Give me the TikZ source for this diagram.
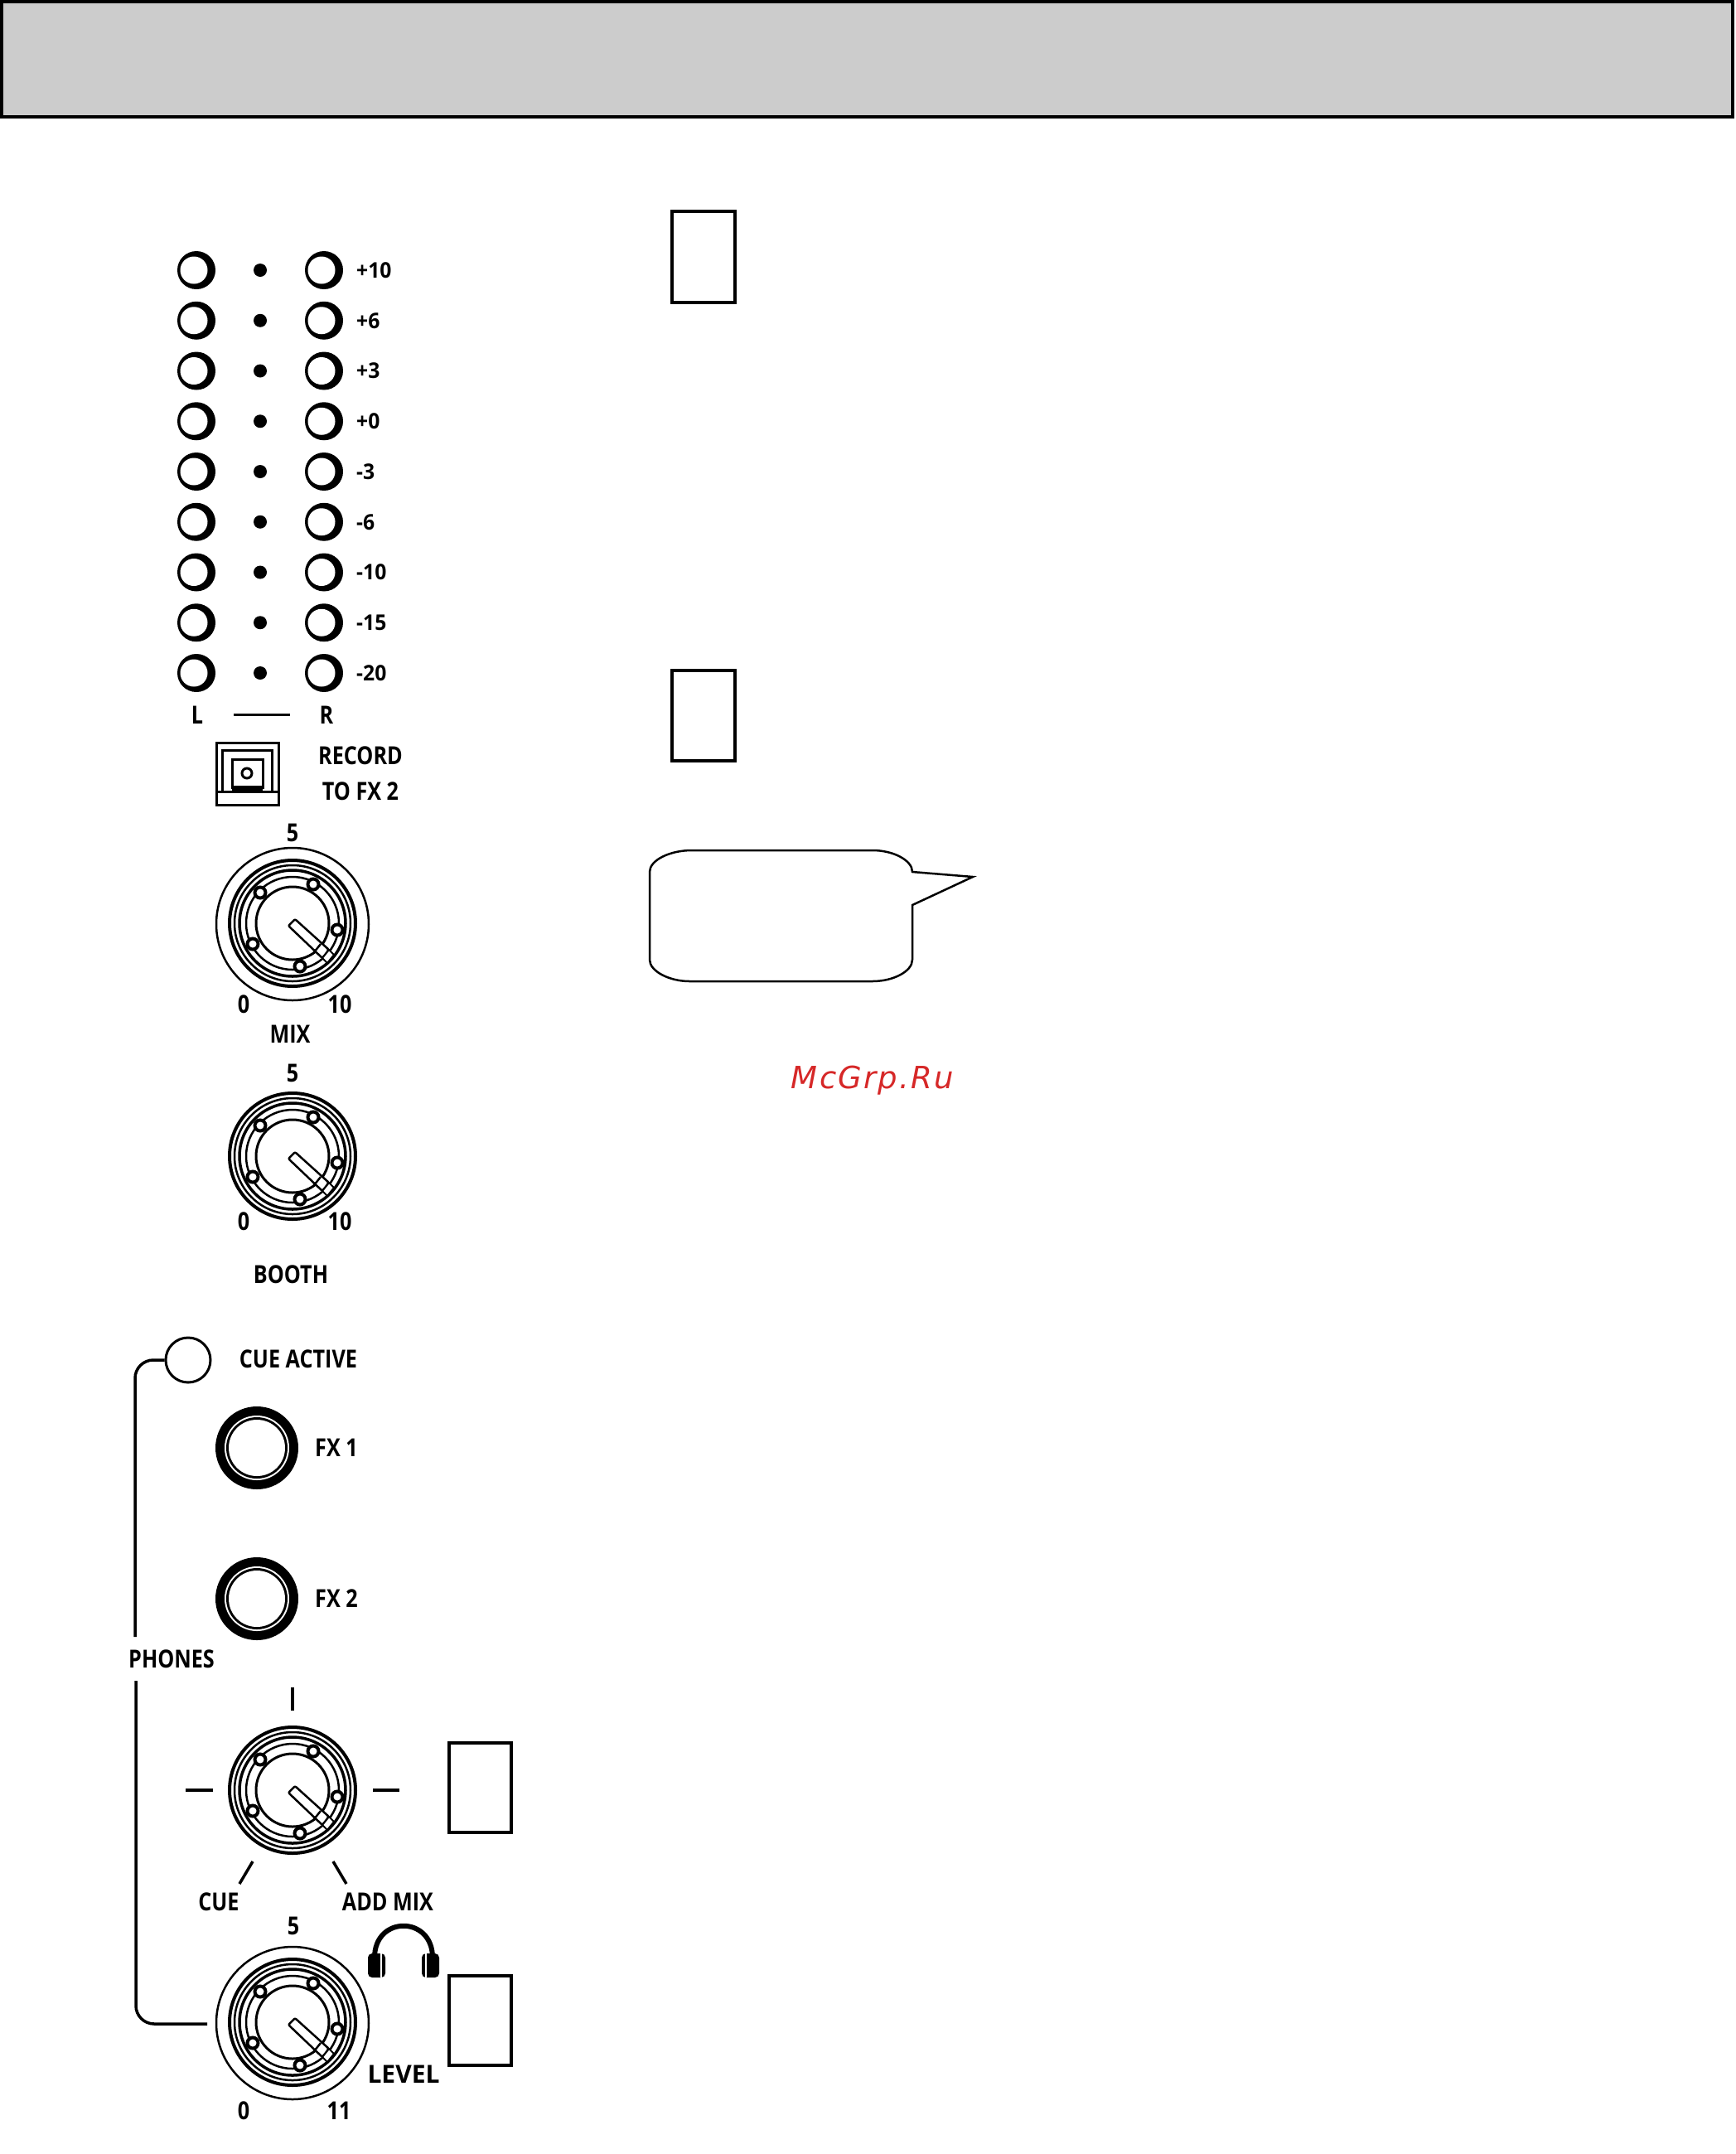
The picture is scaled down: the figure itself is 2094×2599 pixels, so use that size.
\documentclass[tikz,border=0pt]{standalone}
\usepackage{fontspec}
\newfontfamily\panelfont[FakeStretch=0.84]{Open Sans}
\newfontfamily\scalefont[FakeStretch=0.95]{Open Sans}
\newfontfamily\widefont{Open Sans}
\newfontfamily\markfont[LetterSpace=6]{DejaVu Sans}
\definecolor{bannergray}{RGB}{204,204,204}
\definecolor{markred}{RGB}{214,40,40}
\tikzset{
    panel/.style={inner sep=0pt, font=\panelfont\bfseries\fontsize{30}{32}\selectfont},
    widepanel/.style={inner sep=0pt, font=\widefont\bfseries\fontsize{30}{32}\selectfont},
    small/.style={inner sep=0pt, anchor=west, font=\scalefont\bfseries\fontsize{26}{28}\selectfont},
    blank/.style={draw, line width=3.5pt, fill=white},
    knob/.pic={
        \fill [white] (0,0) circle [radius=78];
        \foreach \r/\w in {76/4, 70/2.5, 64/3.5, 56/2.5, 44/3} {
            \draw [line width=\w pt] (0,0) circle [radius=\r];
        }
        \foreach \nx/\ny in {-39/-37, 25/-47, 54/8, -48/25, 9/52} {
            \draw [line width=4pt, fill=white] (\nx,\ny) circle [radius=6.5];
        }
        \draw [line width=2.5pt, fill=white, rounded corners=2pt] (-5,3) -- (3,-5) -- (44,32) -- (36,42) -- cycle;
        \draw [line width=2pt, fill=white] (36,42) -- (44,32) -- (50,38) -- (42,48) -- cycle;
        \draw [line width=2.5pt] (26,35) -- (34,25);
    }
}

\begin{document}
\begin{tikzpicture}[x=1pt, y=-1pt]

    \useasboundingbox (0,0) rectangle (2094,2599);

    \def\ledl{237}
    \def\ledm{314}
    \def\ledr{391}
    \def\fxx{310}
    \def\knobx{353}

    \draw [line width=3.5pt, fill=bannergray] (2,2) rectangle (2091,141);

    % meter
    \foreach \i/\lab in {0/+10, 1/+6, 2/+3, 3/+0, 4/-3, 5/-6, 6/-10, 7/-15, 8/-20} {
        \pgfmathsetmacro{\rowy}{326+60.75*\i}
        \foreach \x in {\ledl, \ledr} {
            \fill (\x,\rowy) circle [radius=23];
            \fill [white] (\x-3,\rowy) circle [radius=16.5];
        }
        \fill (\ledm,\rowy) circle [radius=8];
        \node [small] (db\i) at (430,\rowy) {\lab};
    }
    \node [panel] (left) at (238,863) {L};
    \node [panel] (right) at (394,863) {R};
    \draw [line width=3pt] (282,862) -- (350,862);

    % record button
    \draw [line width=3pt] (261,896) rectangle (336,971);
    \draw [line width=3pt] (268,955) |- (328,905) -- (328,955);
    \draw [line width=3pt] (261,955) -- (336,955);
    \draw [line width=3pt] (280,952) |- (317,916) -- (317,952);
    \draw [line width=6pt] (280,951) -- (317,951);
    \draw [line width=3pt] (298,933) circle [radius=6];
    \node [panel] (record) at (435,912) {RECORD};
    \node [panel] (tofx) at (435,955) {TO FX 2};

    % mix and booth
    \draw [line width=2.5pt] (\knobx,1115) circle [radius=92];
    \pic at (\knobx,1114) {knob};
    \node [panel] (mixtop) at (\knobx,1005) {5};
    \node [panel] (mixlow) at (294,1212) {0};
    \node [panel] (mixhigh) at (410,1212) {10};
    \node [panel] (mix) at (350,1248) {MIX};

    \pic at (\knobx,1395) {knob};
    \node [panel] (boothtop) at (\knobx,1295) {5};
    \node [panel] (boothlow) at (294,1474) {0};
    \node [panel] (boothhigh) at (410,1474) {10};
    \node [panel] (booth) at (351,1538) {BOOTH};

    % cue section
    \node [circle, draw, line width=3pt, fill=white, minimum size=54pt, inner sep=0pt] (cueled) at (227,1641) {};
    \node [panel] (cueactive) at (360,1640) {CUE ACTIVE};
    \foreach \n/\y/\lab in {1/1747/FX 1, 2/1929/FX 2} {
        \fill (\fxx,\y) circle [radius=50];
        \fill [white] (\fxx,\y) circle [radius=39];
        \fill (\fxx,\y) circle [radius=37];
        \fill [white] (\fxx,\y) circle [radius=34];
        \node [panel] (fx\n) at (406,\y) {\lab};
    }

    % phones
    \node [panel] (phones) at (207,2002) {PHONES};
    \coordinate (phonesup) at (163,1975);
    \coordinate (phonesdown) at (164,2028);
    \coordinate (levelin) at (250,2442);
    \draw [line width=3.5pt, rounded corners=22pt] (phonesup) |- (cueled.west);
    \draw [line width=3.5pt, rounded corners=22pt] (phonesdown) |- (levelin);

    \pic at (\knobx,2160) {knob};
    \draw [line width=3.5pt] (\knobx,2036) -- (\knobx,2064);
    \draw [line width=3.5pt] (224,2160) -- (257,2160);
    \draw [line width=3.5pt] (450,2160) -- (482,2160);
    \draw [line width=3.5pt] (305,2246) -- (289,2273);
    \draw [line width=3.5pt] (402,2246) -- (418,2273);
    \node [panel] (cue) at (264,2295) {CUE};
    \node [panel] (addmix) at (468,2295) {ADD MIX};

    \draw [line width=2.5pt] (\knobx,2441) circle [radius=92];
    \pic at (\knobx,2440) {knob};
    \node [panel] (leveltop) at (354,2324) {5};
    \node [panel] (levellow) at (294,2547) {0};
    \node [panel] (levelhigh) at (409,2547) {11};
    \node [widepanel] (level) at (487,2503) {LEVEL};

    % headphones
    \draw [line width=6pt] (452,2362) .. controls (452,2311) and (522,2311) .. (522,2362);
    \fill [rounded corners=5pt] (444,2357) rectangle (465,2386);
    \fill [rounded corners=5pt] (509,2357) rectangle (530,2386);
    \draw [white, line width=1.5pt] (460,2357) -- (460,2386);
    \draw [white, line width=1.5pt] (514,2357) -- (514,2386);

    % empty boxes
    \draw [blank] (811,255) rectangle (887,365);
    \draw [blank] (811,809) rectangle (887,918);
    \draw [blank] (542,2103) rectangle (617,2211);
    \draw [blank] (542,2384) rectangle (617,2492);

    % callout
    \draw [line width=2.5pt, fill=white] (784,1052)
        .. controls (784,1038) and (808,1026) .. (835,1026)
        -- (1053,1026)
        .. controls (1078,1026) and (1101,1038) .. (1101,1052)
        -- (1174,1058) -- (1101,1092) -- (1101,1158)
        .. controls (1101,1172) and (1078,1184) .. (1053,1184)
        -- (832,1184)
        .. controls (808,1184) and (784,1172) .. (784,1158)
        -- cycle;

    \node [inner sep=0pt, text=markred, font=\markfont\itshape\fontsize{37}{40}\selectfont] (mark) at (1053,1304) {McGrp.Ru};

\end{tikzpicture}
\end{document}
